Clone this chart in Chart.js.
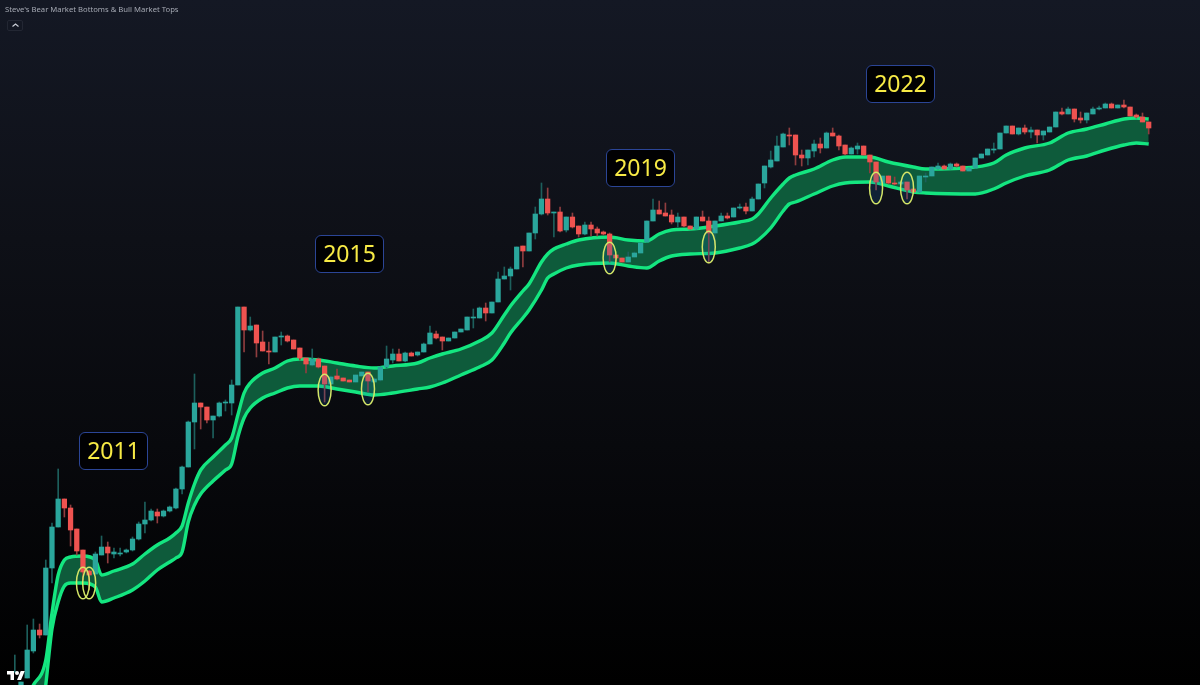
<!DOCTYPE html>
<html lang="en">
<head>
<meta charset="UTF-8">
<title>Steve's Bear Market Bottoms & Bull Market Tops</title>
<script src="https://cdn.jsdelivr.net/npm/chart.js"></script>
<style>
    html, body { margin: 0; padding: 0; width: 1200px; height: 685px; overflow: hidden; background: #000; }
    #wrap { position: relative; width: 1200px; height: 685px; background: linear-gradient(to bottom, #141824 0%, #0e1017 35%, #08090d 65%, #000 100%); }
    canvas { position: absolute; left: 0; top: 0; }
    #title { position: absolute; left: 5px; top: 3px; font: 7.7px/12px "Noto Sans", sans-serif; color: #a4a8b2; white-space: nowrap; }
    #collapse { position: absolute; left: 7px; top: 20px; width: 16px; height: 11px; border: 1px solid #232733; border-radius: 2px; box-sizing: border-box; }
    #collapse svg { position: absolute; left: 3px; top: 1px; }
    .year { position: absolute; box-sizing: border-box; width: 69px; height: 38px; border: 1.4px solid #2b4596; border-radius: 6px; background: #010103;
        color: #f7ea45; font: 23px/35px "Noto Sans", sans-serif; text-align: center; }
    #logo { position: absolute; left: 7px; top: 669px; }
</style>
</head>
<body>
<div id="wrap">
    <canvas id="chart" width="1200" height="685"></canvas>
    <div id="title">Steve's Bear Market Bottoms &amp; Bull Market Tops</div>
    <div id="collapse"><svg width="9" height="7" viewBox="0 0 9 7"><path d="M1.5 4.5 L4.5 2 L7.5 4.5" fill="none" stroke="#c8ccd4" stroke-width="1.2"/></svg></div>
    <div class="year" style="left:79px;top:432px">2011</div>
    <div class="year" style="left:315px;top:235px">2015</div>
    <div class="year" style="left:606px;top:149px">2019</div>
    <div class="year" style="left:866px;top:65px">2022</div>
    <svg id="logo" width="18" height="14" viewBox="0 0 36 28"><path fill="#fff" d="M14 22H7V11H0V4h14v18zM28 22h-8l7.5-18h8L28 22z"/><circle fill="#fff" cx="20" cy="8" r="4"/></svg>
</div>

<script>
// candles, one per month (log price, in chart units)
const opens = [13,-5,7,34,55,50,117,158,186,177,156,135,114,111,130,138,131,131,133,135,
    146,161,165,173,169,174,177,196,218,263,282,278,265,269,282,282,300,378,355,360,
    343,334,333,348,349,345,337,327,320,326,319,301,309,307,305,303,309,313,303,305,
    318,325,331,324,332,330,333,341,351,348,344,347,353,355,367,367,377,372,383,406,
    409,416,439,434,452,471,486,472,473,455,468,459,451,460,456,453,451,430,427,423,
    428,432,443,464,475,472,470,463,468,459,456,468,464,452,464,469,468,477,478,474,
    486,502,518,524,538,550,550,530,527,534,541,537,552,549,540,531,536,539,530,523,
    502,509,502,501,503,496,493,508,509,516,519,516,521,519,514,517,527,530,535,536,
    552,559,551,557,553,555,550,553,558,573,571,576,567,565,571,576,577,581,577,580,
    578,570,568,563];
const closes = [13,3,35,55,50,117,158,186,177,155,134,113,110,131,138,132,133,132,135,146,
    161,165,174,169,174,178,196,218,263,282,278,265,269,282,283,300,378,355,359,342,
    334,333,348,349,344,336,327,321,326,318,301,308,306,304,303,310,313,304,306,318,
    326,331,324,332,329,333,341,352,347,344,347,353,356,368,368,377,372,383,406,409,
    416,438,434,452,471,486,472,473,454,468,458,451,460,456,452,451,430,427,423,428,
    432,442,464,475,471,469,463,468,459,456,468,464,452,464,469,467,477,478,474,486,
    501,519,525,539,551,549,530,527,535,541,537,552,549,539,531,537,539,530,523,503,
    509,502,501,503,495,493,509,509,518,519,516,521,519,514,517,527,531,536,536,552,
    559,551,557,553,555,550,554,558,573,571,576,566,565,572,576,577,581,577,580,578,
    569,568,563,557];
const highs = [30,3,60,66,61,125,162,216,186,180,156,135,115,133,149,143,137,137,136,148,
    163,183,176,176,175,179,197,219,264,311,282,278,269,283,285,305,378,378,368,360,
    354,343,348,353,350,345,337,327,336,327,319,309,316,307,305,310,313,313,307,318,
    339,336,336,333,333,333,342,359,354,348,347,353,356,368,376,378,382,383,413,418,
    418,438,439,452,478,502,497,473,478,468,472,459,463,463,458,454,452,430,427,433,
    433,442,464,486,484,482,475,472,468,459,468,474,468,464,472,472,477,481,482,488,
    501,519,534,549,552,557,550,535,535,545,547,553,557,550,540,538,542,539,530,523,
    509,509,508,503,503,496,509,512,518,522,520,522,522,519,517,527,531,536,542,552,
    559,559,557,560,558,555,554,558,573,577,578,576,573,572,578,579,582,582,580,585,
    578,571,572,563];
const lows = [13,-5,7,32,47,50,102,158,168,139,130,105,95,110,130,122,127,129,132,134,
    145,152,164,162,168,173,176,191,218,236,256,262,247,268,274,270,300,333,354,328,
    334,321,333,340,343,336,325,312,319,317,283,301,305,304,303,303,309,293,302,304,
    317,322,324,323,329,329,333,341,346,335,344,347,353,355,357,367,364,372,383,406,
    395,416,418,434,446,470,470,448,453,453,457,448,450,449,449,450,423,423,423,423,
    428,432,443,464,471,469,461,458,458,456,456,464,422,440,464,466,468,476,471,474,
    486,497,517,524,538,540,520,519,520,528,532,537,549,535,530,531,531,530,512,495,
    502,501,500,501,486,493,493,503,509,516,516,516,518,514,514,517,527,530,532,536,
    552,551,550,551,547,542,545,553,558,570,571,563,562,562,571,575,577,577,577,577,
    569,567,563,551];

// the two band lines, sampled at these months
const bandMonths = [2,3,5,6,7,8,9,11,13,14,16,19,21,23,25,26,27,28,29,30,
    32,34,35,36,37,38,40,42,44,46,49,52,55,58,61,65,67,69,72,75,
    77,79,80,82,83,85,86,87,89,91,96,99,102,104,106,109,113,117,119,120,
    122,124,125,126,129,132,134,138,141,145,147,155,158,160,163,167,170,173,176,179,
    181,183];
const bandUpper = [-10,0,25,72,110,125,128,129,125,110,114,121,131,140,147,152,159,182,201,215,
    228,240,247,270,292,302,312,317,324,326,325,322,319,317,319,322,327,331,336,344,
    352,370,379,394,401,423,431,436,441,445,448,445,444,451,455,456,459,463,466,471,
    487,501,507,510,516,525,528,528,523,518,516,518,522,530,537,542,552,556,561,566,
    567,566];
const bandLower = [-115,-105,0,56,83,99,102,102,98,83,87,95,104,115,123,127,133,163,180,191,
    204,215,221,248,267,277,287,292,297,299,299,296,293,290,292,296,298,302,310,318,
    325,342,352,367,375,395,407,411,417,420,422,419,417,424,429,431,432,437,441,445,
    457,474,481,483,491,499,502,503,499,493,492,491,496,502,509,515,525,529,535,540,
    542,541];

// the hand drawn yellow ellipses: which candle and at what level
const ellipseMonths = [11,12,50,57,96,112,139,144];
const ellipseLevels = [102,102,295,296,427,438,497,497];

const UP = "#2aa69c";
const DOWN = "#ef5350";
const UP_WICK = "#1d5f5c";
const DOWN_WICK = "#8f3d3f";

const months = opens.map((_, i) => i);
const bodies = months.map(i => ({ x: i, y: [opens[i], closes[i]] }));
const wicks = months.map(i => ({ x: i, y: [lows[i], highs[i]] }));
const isUp = i => closes[i] >= opens[i];

// yellow ellipses, the first two are not filled in the picture
const ellipsePlugin = {
    id: "ellipses",
    afterDatasetsDraw(chart) {
        const ctx = chart.ctx;
        ctx.save();
        ellipseMonths.forEach((m, i) => {
            ctx.beginPath();
            ctx.ellipse(chart.scales.x.getPixelForValue(m), chart.scales.y.getPixelForValue(ellipseLevels[i]), 6.5, 15.8, 0, 0, Math.PI * 2);
            if (i > 1) {
                ctx.fillStyle = "rgba(20,100,170,0.2)";
                ctx.fill();
            }
            ctx.lineWidth = 1.5;
            ctx.strokeStyle = "#d4e668";
            ctx.stroke();
        });
        ctx.restore();
    }
};

new Chart(document.getElementById("chart").getContext("2d"), {
    type: "bar",
    data: {
        datasets: [
            {
                label: "Body",
                data: bodies,
                order: 1,
                grouped: false,
                barThickness: 4.6,
                backgroundColor: months.map(i => isUp(i) ? UP : DOWN)
            },
            {
                label: "Wick",
                data: wicks,
                order: 2,
                grouped: false,
                barThickness: 1,
                backgroundColor: months.map(i => isUp(i) ? UP_WICK : DOWN_WICK)
            },
            {
                type: "line",
                label: "Lower band",
                data: bandMonths.map((m, i) => ({ x: m, y: bandLower[i] })),
                order: 3,
                borderColor: "#14e680",
                borderWidth: 3.4,
                borderJoinStyle: "round",
                cubicInterpolationMode: "monotone",
                pointRadius: 0,
                fill: false
            },
            {
                type: "line",
                label: "Upper band",
                data: bandMonths.map((m, i) => ({ x: m, y: bandUpper[i] })),
                order: 4,
                borderColor: "#14e680",
                borderWidth: 3.4,
                borderJoinStyle: "round",
                cubicInterpolationMode: "monotone",
                pointRadius: 0,
                fill: "-1",
                backgroundColor: "#0e5b3b"
            }
        ]
    },
    options: {
        responsive: false,
        animation: false,
        layout: { padding: 0 },
        plugins: { legend: { display: false }, tooltip: { enabled: false }, title: { display: false } },
        scales: {
            x: { type: "linear", display: false, offset: false, min: -2.389, max: 191.28 },
            y: { display: false, min: 0, max: 685 }
        }
    },
    plugins: [ellipsePlugin]
});
</script>
</body>
</html>
